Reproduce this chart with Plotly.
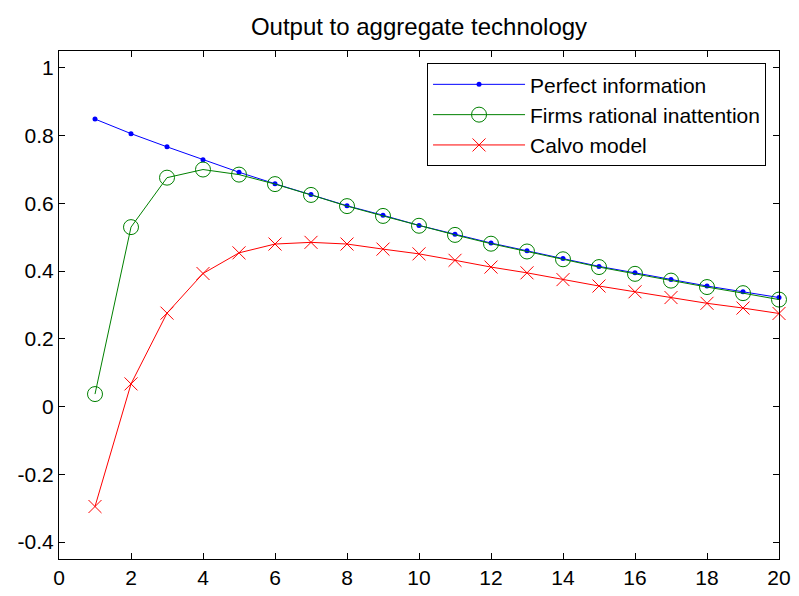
import plotly.graph_objects as go

periods = list(range(1, 21))
perfect_info = [0.849, 0.806, 0.767, 0.729, 0.692, 0.658, 0.626, 0.593, 0.565, 0.535,
                0.509, 0.483, 0.460, 0.437, 0.414, 0.395, 0.375, 0.356, 0.339, 0.322]
rational_inatt = [0.037, 0.530, 0.676, 0.700, 0.685, 0.657, 0.625, 0.592, 0.563, 0.534,
                  0.507, 0.481, 0.458, 0.435, 0.412, 0.392, 0.372, 0.353, 0.335, 0.316]
calvo = [-0.295, 0.067, 0.276, 0.393, 0.454, 0.480, 0.485, 0.480, 0.465, 0.451,
         0.432, 0.412, 0.395, 0.375, 0.356, 0.339, 0.322, 0.305, 0.291, 0.275]

x_ticks = list(range(0, 21, 2))
y_ticks = [-0.4, -0.2, 0, 0.2, 0.4, 0.6, 0.8, 1]
y_ticklabels = ["-0.4", "-0.2", "0", "0.2", "0.4", "0.6", "0.8", "1"]

FONT = "Liberation Sans, Arial, Helvetica, sans-serif"

fig = go.Figure()
fig.add_trace(go.Scatter(
    x=periods, y=perfect_info, name="Perfect information", mode="lines+markers",
    line=dict(color="#0000FF", width=1), cliponaxis=False,
    marker=dict(symbol="circle", size=5, color="#0000FF")))
fig.add_trace(go.Scatter(
    x=periods, y=rational_inatt, name="Firms rational inattention", mode="lines+markers",
    line=dict(color="#008000", width=1), cliponaxis=False,
    marker=dict(symbol="circle-open", size=15, color="#008000", line=dict(width=1, color="#008000"))))
fig.add_trace(go.Scatter(
    x=periods, y=calvo, name="Calvo model", mode="lines+markers",
    line=dict(color="#FF0000", width=1), cliponaxis=False,
    marker=dict(symbol="x-thin-open", size=13, color="#FF0000", line=dict(width=1, color="#FF0000"))))

axis_common = dict(showline=True, linecolor="black", linewidth=1, mirror="ticks",
                   ticks="inside", ticklen=6, tickcolor="black", showgrid=False,
                   zeroline=False, automargin=False,
                   tickfont=dict(family=FONT, size=21, color="black"))

fig.update_layout(
    width=791, height=588,
    paper_bgcolor="white", plot_bgcolor="white",
    margin=dict(l=51, r=20, t=43, b=37, autoexpand=False),
    title=dict(text="Output to aggregate technology", x=0.5, xanchor="center", xref="paper",
               y=1 - 19 / 588, yanchor="middle", yref="container",
               font=dict(family=FONT, size=24, color="black")),
    xaxis=dict(range=[0, 20], tickvals=x_ticks, **axis_common),
    yaxis=dict(range=[-0.45, 1.05], tickvals=y_ticks, ticktext=y_ticklabels, **axis_common),
    legend=dict(x=0.982, y=0.976, xanchor="right", yanchor="top",
                bordercolor="black", borderwidth=1, bgcolor="white",
                font=dict(family=FONT, size=21, color="black"),
                itemwidth=92, tracegroupgap=0),
    showlegend=True,
)

fig.write_html("out.html")
